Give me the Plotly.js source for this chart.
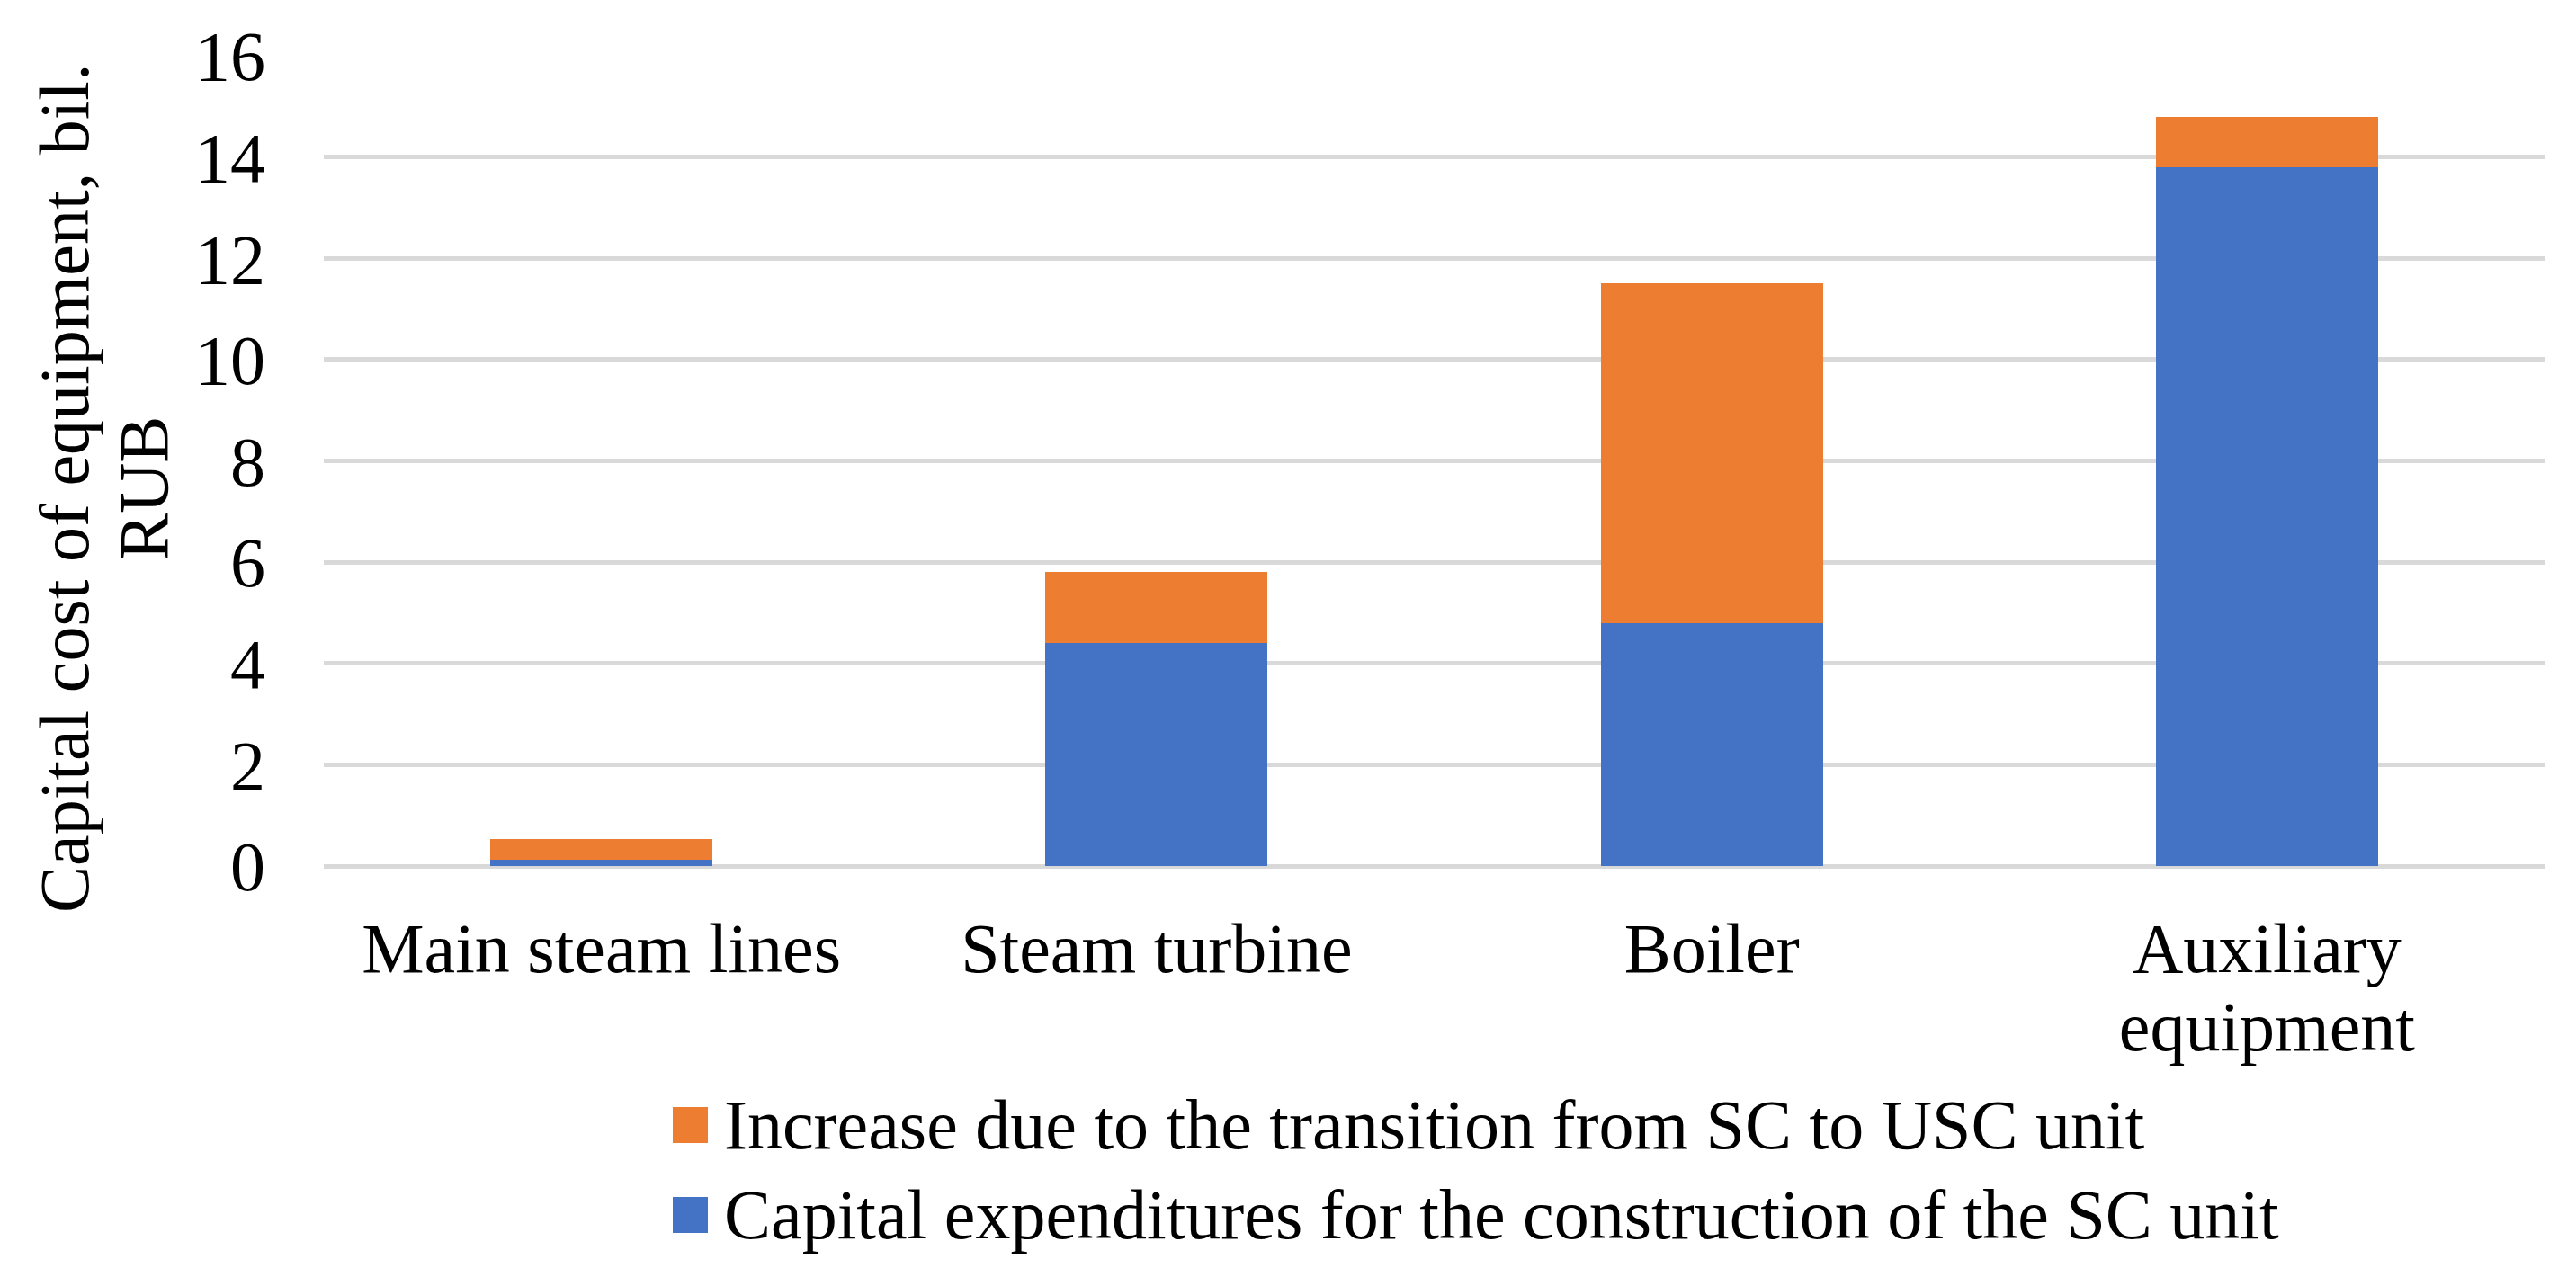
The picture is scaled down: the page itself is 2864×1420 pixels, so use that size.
<!DOCTYPE html>
<html>
<head>
<meta charset="utf-8">
<script src="https://cdn.plot.ly/plotly-3.0.1.min.js"></script>
<style>html,body{margin:0;padding:0;background:#fff;}#chart{width:2864px;height:1420px;}</style>
</head>
<body>
<div id="chart"></div>
<script>
// Data
const categories = ["Main steam lines", "Steam turbine", "Boiler", "Auxiliary<br>equipment"];
const scValues = [0.12, 4.4, 4.8, 13.8];
const increaseValues = [0.42, 1.4, 6.7, 1.0];
const seriesNames = [
  "Capital expenditures for the construction of the SC unit",
  "Increase due to the transition from SC to USC unit"
];
const yTicks = [0, 2, 4, 6, 8, 10, 12, 14, 16];
const yTitleLines = ["Capital cost of equipment, bil.", "RUB"];

const BLUE = "#4472C4", ORANGE = "#ED7D31", GRID = "#D9D9D9";
const FONT = "Liberation Serif, Times New Roman, serif";
const FS = 78;
const LINE_HEIGHT_EM = 1.12;

const traces = [
  {type: "bar", name: seriesNames[0], x: categories, y: scValues,
   marker: {color: BLUE}, showlegend: false, hoverinfo: "y"},
  {type: "bar", name: seriesNames[1], x: categories, y: increaseValues,
   marker: {color: ORANGE}, showlegend: false, hoverinfo: "y"}
];

const H = 1420, W = 2864;
const mL = 360, mR = 35, mT = 62, mB = 457;
const pw = W - mL - mR, ph = H - mT - mB;
function px2x(p) { return (p - mL) / pw; }
function py2y(p) { return (H - mB - p) / ph; }

const shapes = [], annotations = [];

// custom legend (orange first, blue second)
const legendItems = [
  {name: seriesNames[1], color: ORANGE},
  {name: seriesNames[0], color: BLUE}
];
const legRows = [1251, 1351];
legendItems.forEach((it, i) => {
  const cy = legRows[i];
  shapes.push({type: "rect", xref: "paper", yref: "paper",
    x0: px2x(748), x1: px2x(787), y0: py2y(cy + 20), y1: py2y(cy - 20),
    fillcolor: it.color, line: {width: 0}});
  annotations.push({xref: "paper", yref: "paper", x: px2x(803), y: py2y(cy - 1),
    xanchor: "left", yanchor: "middle", showarrow: false, text: it.name,
    font: {family: FONT, size: FS, color: "#000"}});
});

// y-axis title (two lines, rotated)
const titleCenters = [71, 159];
yTitleLines.forEach((t, i) => {
  annotations.push({xref: "paper", yref: "paper", x: px2x(titleCenters[i]), y: py2y(543),
    xanchor: "center", yanchor: "middle", textangle: -90, showarrow: false, text: t,
    font: {family: FONT, size: FS, color: "#000"}});
});

const layout = {
  width: W, height: H,
  margin: {l: mL, r: mR, t: mT, b: mB, pad: 0},
  paper_bgcolor: "#fff", plot_bgcolor: "#fff",
  barmode: "stack", bargap: 0.6,
  font: {family: FONT, size: FS, color: "#000"},
  showlegend: false,
  xaxis: {
    showgrid: false, showline: false, zeroline: false, ticks: "",
    tickfont: {family: FONT, size: FS, color: "#000"},
    ticklabelstandoff: 39, automargin: false
  },
  yaxis: {
    range: [0, 16], tickvals: yTicks, ticktext: yTicks.map(String),
    showgrid: true, gridcolor: GRID, gridwidth: 5,
    zeroline: true, zerolinecolor: GRID, zerolinewidth: 5,
    showline: false, ticks: "", ticklabelstandoff: 64,
    tickfont: {family: FONT, size: FS, color: "#000"},
    automargin: false
  },
  shapes: shapes,
  annotations: annotations
};

Plotly.newPlot("chart", traces, layout, {displayModeBar: false, staticPlot: true}).then(gd => {
  // tighten line spacing of multi-line category labels to match the reference
  gd.querySelectorAll(".xtick text").forEach(t => {
    t.querySelectorAll("tspan.line").forEach((ln, i) => {
      if (i > 0) ln.setAttribute("dy", (i * LINE_HEIGHT_EM) + "em");
    });
  });
});
</script>
</body>
</html>
